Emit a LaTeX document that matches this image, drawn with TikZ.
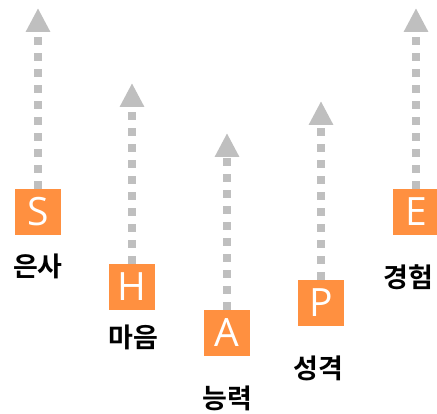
\documentclass[tikz,border=0pt]{standalone}
\usepackage{fontspec}
\setmainfont{Open Sans}
\newfontfamily\kofont{Noto Sans CJK KR Bold}
\usetikzlibrary{arrows.meta}
\definecolor{boxorange}{HTML}{FF9040}
\definecolor{dotgray}{HTML}{BFBFBF}
\tikzset{
  letterbox/.style={fill=boxorange, text=white, minimum width=46pt, minimum height=46pt, inner sep=0pt, font=\fontsize{39}{39}\selectfont},
  kolabel/.style={font=\kofont\fontsize{27}{27}\selectfont, inner sep=0pt, text=black},
  dotline/.style={draw=dotgray, line width=8pt, dash pattern=on 8pt off 8pt, -{Triangle[width=23pt,length=24pt,fill=dotgray]}}
}
\begin{document}
\begin{tikzpicture}[x=1pt,y=-1pt]
\useasboundingbox (0,0) rectangle (437,414);
\node[letterbox] (S) at (38,212) {S};
\node[letterbox] (H) at (132,287) {H};
\node[letterbox] (A) at (227,333) {A};
\node[letterbox] (P) at (321,303) {P};
\node[letterbox] (E) at (416,212) {E};
\coordinate (tS) at (38,8);
\coordinate (tH) at (132,83);
\coordinate (tA) at (227,133);
\coordinate (tP) at (321,101);
\coordinate (tE) at (416,8);
\draw[dotline] (S.north) -- (tS);
\draw[dotline] (H.north) -- (tH);
\draw[dotline] (A.north) -- (tA);
\draw[dotline] (P.north) -- (tP);
\draw[dotline] (E.north) -- (tE);
\node[kolabel] (lS) at (38,266) {은사};
\node[kolabel] (lH) at (133,337) {마음};
\node[kolabel] (lA) at (227,398) {능력};
\node[kolabel] (lP) at (318,368) {성격};
\node[kolabel] (lE) at (408,277) {경험};
\end{tikzpicture}
\end{document}
